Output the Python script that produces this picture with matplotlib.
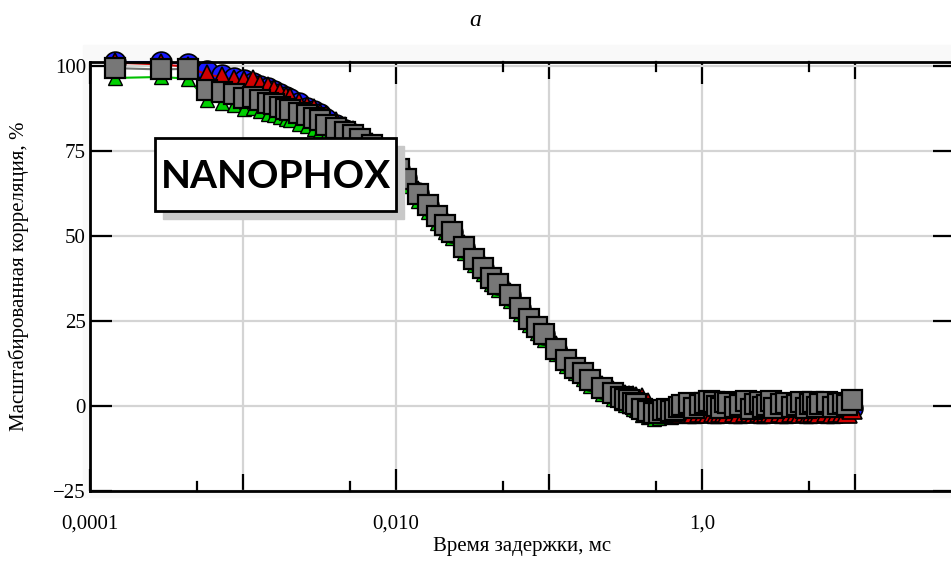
import matplotlib
matplotlib.use("Agg")
import matplotlib.pyplot as plt
import matplotlib.patches as mpatches
import matplotlib.transforms as mtransforms
import numpy as np

# lag time, ms (shared by all four runs)
tau = [1.45e-4, 2.9e-4, 4.35e-4, 5.8e-4, 7.25e-4, 8.7e-4, 1.015e-3, 1.16e-3, 1.3e-3, 1.45e-3,
       1.6e-3, 1.75e-3, 1.9e-3, 2.03e-3, 2.32e-3, 2.61e-3, 2.9e-3, 3.19e-3, 3.48e-3, 4.06e-3,
       4.64e-3, 5.22e-3, 5.8e-3, 6.96e-3, 8.12e-3, 9.28e-3, 1.04e-2, 1.16e-2, 1.39e-2, 1.62e-2,
       1.86e-2, 2.09e-2, 2.32e-2, 2.78e-2, 3.25e-2, 3.71e-2, 4.18e-2, 4.64e-2, 5.57e-2, 6.50e-2,
       7.42e-2, 8.35e-2, 9.28e-2, 0.111, 0.130, 0.148, 0.167, 0.186, 0.223, 0.260,
       0.297, 0.316, 0.334, 0.353, 0.371, 0.408, 0.445, 0.483, 0.520, 0.557,
       0.594, 0.631, 0.668, 0.705, 0.742, 0.816, 0.891, 0.965, 1.04, 1.11,
       1.19, 1.26, 1.34, 1.41, 1.48, 1.63, 1.78, 1.93, 2.08, 2.23,
       2.38, 2.52, 2.67, 2.82, 2.97, 3.27, 3.56, 3.86, 4.16, 4.45,
       4.75, 5.05, 5.35, 5.64, 5.94, 6.53, 7.13, 7.72, 8.32, 8.91,
       9.50]

# scaled correlation, %
corr_gray = [99.4, 99.0, 99.2, 93.0, 92.4, 91.9, 90.7, 91.0, 90.1, 89.2,
             88.7, 88.1, 87.5, 87.2, 86.3, 85.5, 84.6, 84.0, 82.8, 81.7,
             80.5, 79.7, 78.5, 76.7, 74.4, 72.1, 69.8, 66.9, 62.5, 59.0,
             55.8, 53.2, 51.2, 46.8, 43.3, 40.7, 37.8, 36.0, 32.6, 28.8,
             25.6, 23.3, 21.2, 16.9, 13.4, 11.3, 9.6, 7.6, 5.2, 3.8,
             2.6, 2.2, 1.7, 1.0, 0.5, -0.8, -1.5, -2.2, -2.0, -1.2,
             -0.8, -1.5, -1.2, -0.3, 0.2, 1.0, -0.5, 0.4, 0.8, 1.5,
             1.2, 0.0, -0.6, 1.3, 1.0, -0.2, 0.4, 1.4, -0.8, 0.5,
             1.2, -0.3, 0.3, 1.4, -0.5, 0.6, 1.0, -0.4, 0.2, 1.3,
             -0.6, 0.7, 1.2, -0.2, 0.5, 1.1, -0.3, 0.6, 1.0, 0.4,
             1.8]

corr_red = [101.0, 100.5, 99.8, 97.5, 96.8, 96.0, 95.5, 95.8, 94.5, 93.8,
            93.0, 92.0, 91.0, 90.5, 89.2, 88.0, 87.5, 86.0, 85.2, 83.5,
            82.0, 80.8, 79.3, 77.4, 75.1, 72.8, 70.6, 67.7, 63.3, 59.8,
            56.5, 53.9, 51.9, 47.5, 44.0, 41.3, 38.4, 36.6, 33.2, 29.5,
            26.3, 24.0, 21.9, 17.6, 14.3, 12.2, 10.3, 8.2, 5.8, 4.5,
            3.5, 3.2, 3.0, 2.9, 2.6, 2.5, 1.0, -1.8, -2.0, -1.6,
            -1.8, -2.2, -1.9, -1.7, -2.0, -1.8, -2.1, -1.7, -1.9, -2.0,
            -1.8, -2.2, -1.9, -1.7, -2.0, -1.8, -2.1, -1.7, -1.9, -2.0,
            -1.8, -2.2, -1.9, -1.7, -2.0, -1.8, -2.1, -1.7, -1.9, -2.0,
            -1.8, -2.2, -1.9, -1.7, -2.0, -1.8, -2.1, -1.7, -1.9, -2.0,
            -1.0]

corr_blue = [101.2, 101.2, 100.6, 98.5, 97.5, 96.5, 95.8, 95.0, 94.2, 93.5,
             92.8, 91.8, 91.0, 90.2, 89.0, 87.8, 86.8, 85.8, 84.5, 82.8,
             81.2, 80.0, 78.8, 76.8, 74.5, 72.2, 69.8, 67.0, 62.6, 59.0,
             55.8, 53.2, 51.2, 46.8, 43.3, 40.7, 37.8, 36.0, 32.6, 28.8,
             25.6, 23.3, 21.2, 16.9, 13.4, 11.3, 9.6, 7.6, 5.2, 3.8,
             2.6, 2.0, 1.7, 1.2, 0.8, -0.6, -1.2, -1.5, -1.6, -1.4,
             -1.5, -1.7, -1.3, -1.6, -1.8, -1.4, -1.5, -1.7, -1.6, -1.3,
             -1.5, -1.8, -1.4, -1.6, -1.7, -1.3, -1.5, -1.8, -1.6, -1.4,
             -1.5, -1.7, -1.3, -1.6, -1.8, -1.4, -1.5, -1.7, -1.6, -1.3,
             -1.5, -1.8, -1.4, -1.6, -1.7, -1.3, -1.5, -1.8, -1.6, -1.4,
             -0.5]

corr_green = [96.5, 96.8, 96.3, 90.0, 89.2, 88.6, 87.5, 87.8, 86.8, 86.0,
              85.5, 84.9, 84.3, 84.0, 83.0, 82.3, 81.4, 80.8, 79.6, 78.5,
              77.3, 76.5, 75.3, 73.8, 71.6, 69.5, 67.3, 64.6, 60.4, 57.0,
              53.9, 51.3, 49.3, 45.0, 41.5, 38.9, 36.0, 34.2, 30.8, 27.0,
              23.8, 21.5, 19.4, 15.2, 11.7, 9.6, 7.9, 5.9, 3.5, 2.1,
              0.9, 0.4, -0.1, -0.8, -1.3, -2.5, -3.3, -3.8, -3.6, -3.0,
              -2.8, -3.1, -2.9, -2.6, -2.5, -2.8, -3.0, -2.6, -2.7, -2.5,
              -2.8, -3.0, -2.6, -2.7, -2.5, -2.8, -3.0, -2.6, -2.7, -2.5,
              -2.8, -3.0, -2.6, -2.7, -2.5, -2.8, -3.0, -2.6, -2.7, -2.5,
              -2.8, -3.0, -2.6, -2.7, -2.5, -2.8, -3.0, -2.6, -2.7, -2.5,
              -1.5]

x_major = [1e-4, 1e-2, 1.0]
x_major_labels = ["0,0001", "0,010", "1,0"]
x_decades = [1e-3, 1e-1, 10.0]
x_halves = [5e-4, 5e-3, 5e-2, 0.5, 5.0]
y_ticks = [-25, 0, 25, 50, 75, 100]

plt.rcParams["font.family"] = ["Liberation Serif", "DejaVu Serif"]

fig = plt.figure(figsize=(9.51, 5.65), dpi=100)
fig.patches.append(mpatches.Rectangle((83 / 951, 68 / 565), 868 / 951, 452 / 565,
                                      transform=fig.transFigure, color="#f9f9f9", zorder=-5))
ax = fig.add_axes([90 / 951, 74 / 565, 865 / 951, 429 / 565])
ax.set_facecolor("white")
ax.set_xscale("log")
ax.set_xlim(1e-4, 45)
ax.set_ylim(-25, 101.2)

# runs, green at the back, gray squares on top
ax.plot(tau, corr_green, color="#00c000", lw=1.5, marker="^", ms=10,
        mfc="#00d000", mec="black", mew=1.0, zorder=3, clip_on=False)
ax.plot(tau, corr_blue, color="#1a1aff", lw=1.5, marker="o", ms=15,
        mfc="#1a1aff", mec="black", mew=1.2, zorder=4, clip_on=False)
ax.plot(tau, corr_red, color="#d00000", lw=1.5, marker="^", ms=14,
        mfc="#d00000", mec="black", mew=1.2, zorder=5, clip_on=False)
ax.plot(tau, corr_gray, color="#707070", lw=1.5, marker="s", ms=15,
        mfc="#777777", mec="black", mew=1.6, zorder=9, clip_on=False)

ax.xaxis.set_major_locator(matplotlib.ticker.FixedLocator(x_major))
ax.xaxis.set_major_formatter(matplotlib.ticker.FixedFormatter(x_major_labels))
ax.xaxis.set_minor_locator(matplotlib.ticker.FixedLocator(x_decades))
ax.xaxis.set_minor_formatter(matplotlib.ticker.NullFormatter())
ax.set_yticks(y_ticks)
ax.set_yticklabels(["\u221225", "0", "25", "50", "75", "100"])

ax.grid(True, which="both", color="#d4d4d4", lw=1.6, zorder=1)
ax.set_axisbelow(True)
ax.tick_params(axis="x", which="major", direction="in", length=16, width=1.6,
               top=True, labelsize=15, pad=17)
ax.tick_params(axis="x", which="minor", direction="in", length=12.5, width=1.6, top=True)
ax.tick_params(axis="y", direction="in", length=16, width=1.6, right=True, labelsize=15, pad=3)

# short ticks at 5 x 10^k, bottom and top
trans = mtransforms.blended_transform_factory(ax.transData, ax.transAxes)
for xv in x_halves:
    ax.plot([xv, xv], [0, 0.021], color="black", lw=1.6, transform=trans, clip_on=False, zorder=7)
    ax.plot([xv, xv], [1, 1 - 0.021], color="black", lw=1.6, transform=trans, clip_on=False, zorder=7)

for sp in ax.spines.values():
    sp.set_linewidth(2)
    sp.set_zorder(8)

ax.set_xlabel("Время задержки, мс", fontsize=15)
ax.xaxis.set_label_coords(0.5, -0.107)
ax.set_ylabel("Масштабированная корреляция, %", fontsize=15)
ax.yaxis.set_label_coords(-0.0705, 0.5)
fig.text(475 / 951, 1 - 20 / 565, "a", fontsize=17, style="italic", ha="center", va="center")

# NANOPHOX label with shadow
shadow = mpatches.Rectangle((163 / 951, (565 - 219) / 565), 241 / 951, 73 / 565,
                            transform=fig.transFigure, color="#c8c8c8", zorder=20)
box = mpatches.Rectangle((155 / 951, (565 - 211) / 565), 241 / 951, 73 / 565,
                         transform=fig.transFigure, facecolor="white", edgecolor="black",
                         lw=2, zorder=21)
fig.patches.extend([shadow, box])
fig.text(276 / 951, 1 - 177 / 565, "NANOPHOX", fontsize=28, fontweight="bold",
         family="Lato", ha="center", va="center", zorder=22)

fig.savefig("out.png", dpi=100)
